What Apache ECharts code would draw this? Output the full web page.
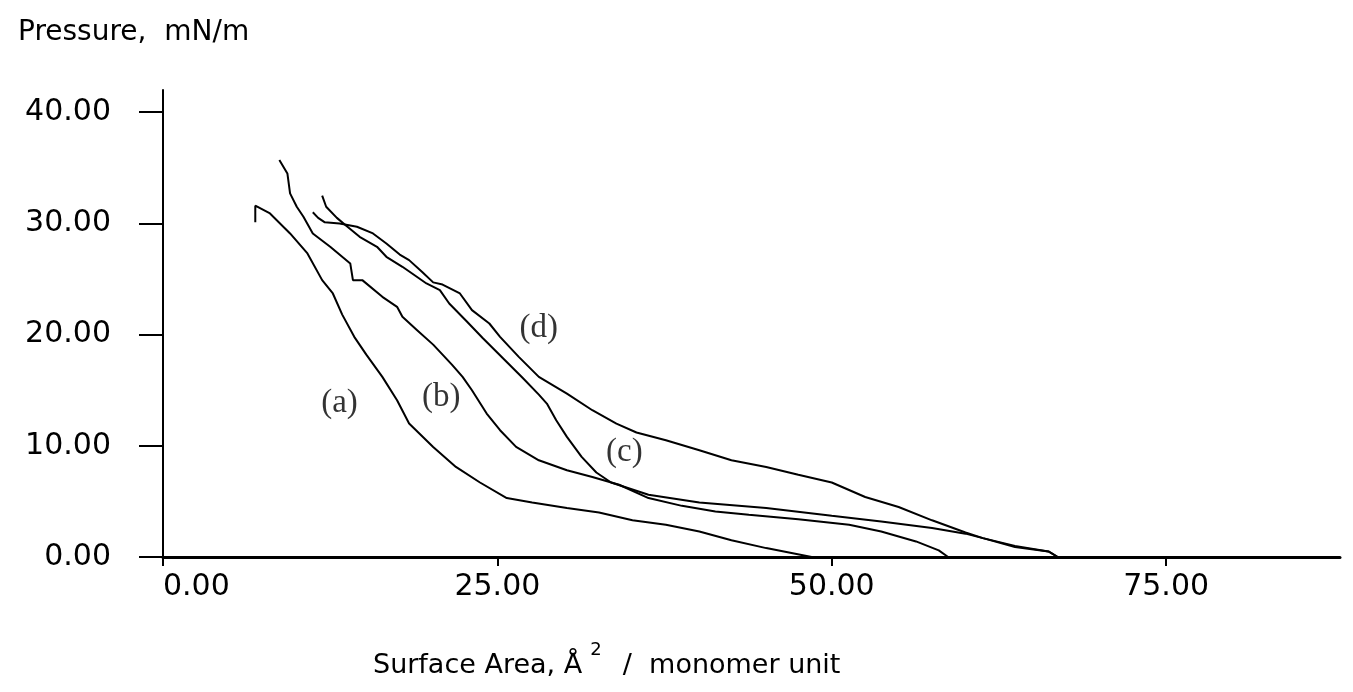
<!DOCTYPE html>
<html>
<head>
<meta charset="utf-8">
<script src="https://cdn.jsdelivr.net/npm/echarts@6/dist/echarts.min.js"></script>
<style>
    html, body { margin: 0; padding: 0; background: #fff; }
    #chart { width: 1353px; height: 692px; }
</style>
</head>
<body>
<div id="chart"></div>
<script>
const aX = [6.9, 6.9, 8.0, 9.5, 10.8, 11.9, 12.7, 13.4, 14.3, 15.2, 16.4, 17.5, 18.4, 20.2, 21.9, 23.7, 25.7, 27.6, 30.2, 32.6, 35.1, 37.6, 40.1, 42.5, 45.1, 46.8, 48.5];
const aY = [30.1, 31.6, 30.9, 29.1, 27.3, 24.9, 23.7, 21.8, 19.8, 18.2, 16.2, 14.1, 12.0, 9.9, 8.1, 6.7, 5.3, 4.9, 4.4, 4.0, 3.3, 2.9, 2.3, 1.5, 0.8, 0.4, 0.0];

const bX = [8.7, 9.3, 9.5, 10.0, 10.5, 11.2, 12.5, 14.0, 14.2, 14.9, 16.4, 17.5, 17.9, 19.0, 20.2, 21.6, 22.4, 23.1, 24.2, 25.2, 26.4, 28.1, 30.2, 32.1, 34.1, 36.3, 38.8, 41.3, 43.8, 47.5, 51.3, 53.7, 56.3, 58.0, 58.7];
const bY = [35.7, 34.5, 32.7, 31.5, 30.6, 29.1, 27.9, 26.4, 24.9, 24.9, 23.4, 22.5, 21.6, 20.4, 19.1, 17.3, 16.2, 15.0, 12.9, 11.4, 9.9, 8.7, 7.8, 7.2, 6.5, 5.3, 4.6, 4.1, 3.8, 3.4, 2.9, 2.3, 1.4, 0.6, 0.0];

const cX = [11.9, 12.2, 13.0, 13.7, 14.7, 16.0, 16.7, 17.9, 19.7, 20.7, 21.4, 22.7, 23.9, 25.4, 26.9, 28.1, 28.7, 29.4, 30.2, 31.3, 32.4, 33.5, 36.3, 40.1, 45.1, 50.0, 53.7, 57.5, 60.0, 61.3, 63.7, 66.2, 66.9];
const cY = [32.5, 31.5, 30.5, 29.8, 28.8, 27.9, 27.0, 26.1, 24.6, 24.0, 22.8, 21.2, 19.7, 17.9, 16.1, 14.6, 13.8, 12.3, 10.8, 9.0, 7.6, 6.7, 5.6, 4.9, 4.4, 3.7, 3.2, 2.6, 2.1, 1.7, 1.0, 0.5, 0.0];

const dX = [11.2, 11.6, 12.1, 13.2, 14.5, 15.7, 16.7, 17.7, 18.4, 19.4, 20.2, 20.9, 22.2, 23.1, 24.4, 25.2, 26.6, 28.1, 30.2, 32.1, 33.9, 35.4, 37.6, 40.1, 42.5, 45.1, 47.5, 50.0, 52.5, 55.0, 57.5, 60.0, 61.3, 63.7, 66.2, 66.9];
const dY = [31.0, 30.5, 30.1, 30.0, 29.7, 29.1, 28.2, 27.2, 26.7, 25.6, 24.7, 24.5, 23.7, 22.2, 21.0, 19.8, 18.0, 16.2, 14.7, 13.2, 12.0, 11.2, 10.5, 9.6, 8.7, 8.1, 7.4, 6.7, 5.4, 4.5, 3.3, 2.2, 1.7, 0.9, 0.5, 0.0];

const xTicks = [0, 25, 50, 75];
const yTicks = [0, 10, 20, 30, 40];

// curve tags and where they sit
const tagNames = ['(a)', '(b)', '(c)', '(d)'];
const tagX = [13.2, 20.8, 34.5, 28.1];
const tagY = [13.8, 14.4, 9.4, 20.6];

function pairs(xs, ys) {
    let out = [];
    for (let i = 0; i < xs.length; i++) {
        out.push([xs[i], ys[i]]);
    }
    return out;
}

const curveStyle = {
    type: 'line',
    showSymbol: false,
    symbol: 'none',
    lineStyle: { color: '#000', width: 2 },
    z: 3
};

const chart = echarts.init(document.getElementById('chart'), null, { renderer: 'canvas' });
const option = {
    animation: false,
    backgroundColor: '#fff',
    textStyle: { fontFamily: 'DejaVu Sans' },
    title: [{
        text: 'Pressure,  mN/m',
        left: 13,
        top: 14,
        textStyle: { fontFamily: 'DejaVu Sans', fontSize: 28, fontWeight: 'normal', color: '#000' }
    }, {
        text: '{t|Surface Area, Å}{s|2}{t|  /  monomer unit}',
        left: 368,
        top: 636,
        textStyle: {
            rich: {
                t: { fontFamily: 'DejaVu Sans', fontSize: 27, fontWeight: 'normal', color: '#000', verticalAlign: 'bottom', lineHeight: 38 },
                s: { fontFamily: 'DejaVu Sans', fontSize: 18, fontWeight: 'normal', color: '#000', verticalAlign: 'top', padding: [0, 4, 14, 8], lineHeight: 38 }
            }
        }
    }],
    grid: {
        left: 163,
        right: 13,
        top: 90,
        bottom: 135,
        show: false
    },
    xAxis: {
        type: 'value',
        min: 0,
        max: 88,
        splitLine: { show: false },
        axisLine: { show: true, onZero: false, lineStyle: { color: '#000', width: 3 } },
        axisTick: { show: true, customValues: xTicks, length: 9, lineStyle: { color: '#000', width: 2 } },
        axisLabel: {
            customValues: xTicks,
            margin: 15,
            color: '#000',
            fontSize: 30,
            fontFamily: 'DejaVu Sans',
            alignMinLabel: 'left',
            formatter: v => v.toFixed(2)
        }
    },
    yAxis: {
        type: 'value',
        min: 0,
        max: 42,
        splitLine: { show: false },
        axisLine: { show: true, onZero: false, lineStyle: { color: '#000', width: 2 } },
        axisTick: { show: true, customValues: yTicks, length: 24, lineStyle: { color: '#000', width: 2 } },
        axisLabel: {
            customValues: yTicks,
            margin: 52,
            color: '#000',
            fontSize: 30,
            fontFamily: 'DejaVu Sans',
            formatter: v => v.toFixed(2)
        }
    },
    series: [
        Object.assign({ name: 'a', data: pairs(aX, aY) }, curveStyle),
        Object.assign({ name: 'b', data: pairs(bX, bY) }, curveStyle),
        Object.assign({ name: 'c', data: pairs(cX, cY) }, curveStyle),
        Object.assign({ name: 'd', data: pairs(dX, dY) }, curveStyle),
        {
            name: 'tags',
            type: 'scatter',
            symbolSize: 0,
            silent: true,
            data: tagNames.map((t, i) => ({ value: [tagX[i], tagY[i]], name: t })),
            label: {
                show: true,
                position: 'inside',
                formatter: p => p.name,
                fontFamily: 'Liberation Serif',
                fontSize: 33,
                color: '#000'
            }
        }
    ]
};
chart.setOption(option);
</script>
</body>
</html>
